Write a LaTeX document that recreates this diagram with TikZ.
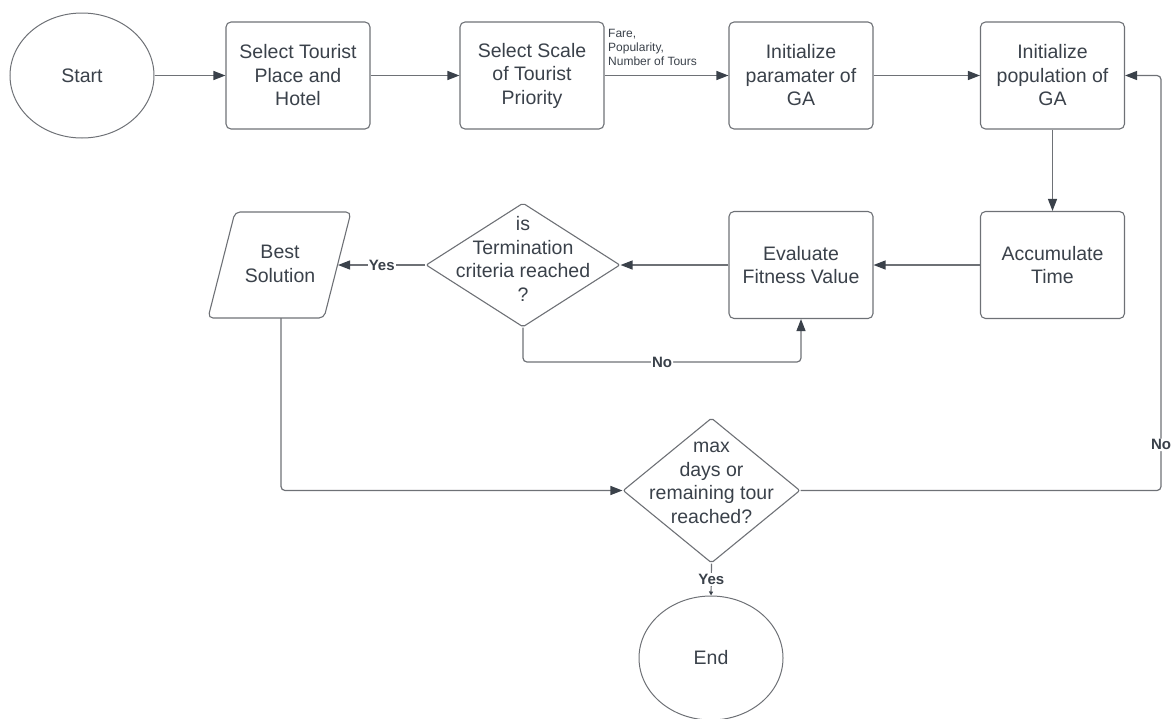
\documentclass[tikz,border=0pt]{standalone}
\usepackage{fontspec}
\setmainfont{Liberation Sans}
\usetikzlibrary{shapes.geometric,arrows.meta}
\definecolor{txt}{HTML}{3A414A}
\definecolor{ln}{HTML}{6E7176}
\begin{document}
\begin{tikzpicture}[x=1pt,y=-1pt,
  every node/.style={text=txt, font=\fontsize{19.5}{23.5}\selectfont, align=center},
  proc/.style={draw=ln, line width=1.1pt, rounded corners=5pt, minimum width=144pt, minimum height=107pt, inner sep=0pt},
  term/.style={draw=ln, line width=1pt, ellipse, minimum width=144pt, minimum height=125pt, inner sep=0pt},
  dec/.style={draw=ln, line width=1.1pt, diamond, inner sep=0pt, rounded corners=2pt},
  conn/.style={draw=ln, line width=1.2pt, -{Triangle[length=12pt,width=9pt,color=txt]}},
  lab/.style={font=\bfseries\fontsize{15}{18}\selectfont, fill=white, inner sep=1pt}]
\useasboundingbox (0,0) rectangle (1174,718);
% nodes
\node[term] (start) at (82,75.5) {Start};
\node[proc] (b1) at (298,75.5) {Select Tourist\\Place and\\Hotel};
\node[proc] (b2) at (532,75.5) {Select Scale\\of Tourist\\Priority};
\node[proc] (b3) at (801,75.5) {Initialize\\paramater of\\GA};
\node[proc] (b4) at (1052.5,75.5) {Initialize\\population of\\GA};
\node[proc] (b5) at (1052.5,265) {Accumulate\\Time};
\node[proc] (ev) at (801,265) {Evaluate\\Fitness Value};
\node[dec, minimum width=194pt, minimum height=124pt] (d1) at (523,265) {};
\node (d1t) at (523,259) {is\\Termination\\criteria reached\\?};
\draw[draw=ln, line width=1.1pt, rounded corners=5pt] (235,212) -- (351,212) -- (324,318) -- (208,318) -- cycle;
\node (bs) at (280,264) {Best\\Solution};
\coordinate (bsE) at (338,265);
\coordinate (bsS) at (281,318);
\node[dec, minimum width=177pt, minimum height=145pt] (d2) at (711.5,490.5) {};
\node (d2t) at (711.5,483) {max\\days or\\remaining tour\\reached?};
\node[term, minimum height=124pt] (end) at (711,658) {End};
\node[font=\fontsize{12}{14}\selectfont, align=left, anchor=south west, inner sep=1pt] (fare) at (607,67) {Fare,\\Popularity,\\Number of Tours};
% connectors
\draw[conn] (start.east) -- (b1.west);
\draw[conn] (b1.east) -- (b2.west);
\draw[conn] (b2.east) -- (b3.west);
\draw[conn] (b3.east) -- (b4.west);
\draw[conn] (b4.south) -- (b5.north);
\draw[conn] (b5.west) -- (ev.east);
\draw[conn] (ev.west) -- (d1.east);
\draw[conn] (d1.west) -- node[lab]{Yes} (bsE);
\draw[conn, rounded corners=4pt] (d1.south) -- (523,362) -- node[lab]{No} (801,362) -- (ev.south);
\draw[conn, rounded corners=4pt] (bsS) -- (281,490.5) -- (d2.west);
\draw[conn, rounded corners=4pt] (d2.east) -- (1161,490.5) -- node[lab,pos=0.11]{No} (1161,75.5) -- (b4.east);
\draw[draw=ln, line width=1.2pt, -{Triangle[length=4pt,width=4pt,color=txt]}] (d2.south) -- node[lab]{Yes} (end.north);
\end{tikzpicture}
\end{document}
